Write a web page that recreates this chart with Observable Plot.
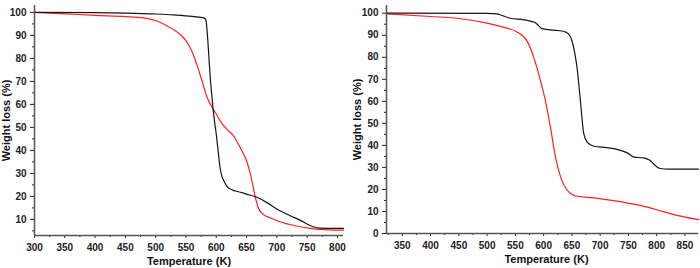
<!DOCTYPE html>
<html><head><meta charset="utf-8">
<script src="https://cdn.jsdelivr.net/npm/d3@7"></script>
<script src="https://cdn.jsdelivr.net/npm/@observablehq/plot@0.6"></script>
<style>
body{margin:0;background:#fff}
#wrap{display:flex;width:700px;height:268px}
#wrap svg{display:block}
</style>
</head><body><div id="wrap"></div>
<script>
// ---- Left panel data ----
const leftBlackT = [300, 400, 450, 500, 530, 560, 575, 581, 583, 584.5, 586, 588, 590, 593, 596, 600, 603, 606, 609, 613, 618, 625, 640, 650, 667, 683, 700, 722, 738, 760, 771, 810];
const leftBlackW = [100, 99.9, 99.7, 99.3, 98.9, 98.3, 97.8, 97.4, 96.5, 93, 88, 80, 72, 63, 55, 47, 40, 33, 29, 26.5, 24.3, 23, 21.8, 21, 19.6, 17.4, 14.5, 11.6, 9.7, 6.8, 6.2, 6.1];
const leftRedT = [300, 350, 400, 450, 480, 500, 520, 540, 550, 560, 573, 585, 600, 610, 620, 628, 634, 642, 650, 656, 661, 665, 669, 677, 690, 700, 720, 738, 755, 771, 810];
const leftRedW = [100, 99.4, 98.7, 98.2, 97.6, 96.5, 94, 90.5, 87.7, 83, 73.2, 63, 55.8, 51.5, 48.5, 46.5, 44, 40, 35.5, 30, 24, 19, 15.2, 12.3, 10.6, 9.4, 7.9, 6.8, 6.1, 5.7, 5.3];
const leftXTicks = [300, 350, 400, 450, 500, 550, 600, 650, 700, 750, 800];
const leftXMinor = [325, 375, 425, 475, 525, 575, 625, 675, 725, 775];
const leftYTicks = [10, 20, 30, 40, 50, 60, 70, 80, 90, 100];
const leftYMinor = [5, 15, 25, 35, 45, 55, 65, 75, 85, 95];

// ---- Right panel data ----
const rightBlackT = [322, 500, 518, 524, 541, 565, 578, 586, 597, 612, 635, 644, 650, 655, 659, 665, 671, 677, 689, 712, 730, 748, 760, 777, 788, 797, 806, 820, 874];
const rightBlackW = [100, 99.9, 99.7, 99.2, 97.7, 97, 96.3, 95.6, 93, 92.4, 91.8, 90.6, 87.6, 82, 75.5, 60.4, 45.3, 41.5, 39.6, 39, 38.2, 36.6, 34.7, 34.3, 33.2, 31, 29.5, 29.2, 29.2];
const rightRedT = [322, 400, 450, 500, 535, 553, 571, 582, 594, 603, 612, 621, 630, 642, 659, 689, 730, 760, 800, 830, 874];
const rightRedW = [99.7, 98.5, 97.6, 95.5, 93.2, 91.5, 87.2, 80.4, 69.8, 60.4, 48.3, 34.7, 25.7, 19.6, 16.9, 16.2, 14.7, 13.3, 10.8, 8.6, 6.3];
const rightXTicks = [350, 400, 450, 500, 550, 600, 650, 700, 750, 800, 850];
const rightXMinor = [325, 375, 425, 475, 525, 575, 625, 675, 725, 775, 825, 875];
const rightYTicks = [0, 10, 20, 30, 40, 50, 60, 70, 80, 90, 100];
const rightYMinor = [5, 15, 25, 35, 45, 55, 65, 75, 85, 95];

const xTitle = "Temperature (K)";
const yTitle = "Weight loss (%)";

const zip = (T, W) => T.map((t, i) => ({t, w: W[i]}));

function panel(o) {
  return Plot.plot({
    width: 350, height: 268,
    marginLeft: o.ml, marginRight: o.mr, marginTop: 5, marginBottom: o.mb,
    style: {fontFamily: "'Liberation Sans', Arial, sans-serif", fontWeight: "bold", fontSize: "10px", background: "#fff", color: "#222", overflow: "visible"},
    x: {domain: o.xDomain},
    y: {domain: o.yDomain},
    marks: [
      Plot.line(o.red, {x: "t", y: "w", stroke: "#ff2020", strokeWidth: 1.2, curve: "monotone-x"}),
      Plot.line(o.black, {x: "t", y: "w", stroke: "#151515", strokeWidth: 1.2, curve: "monotone-x"}),
      Plot.axisX({ticks: o.xTicks, tickSize: 3, tickPadding: 5, label: null}),
      Plot.axisX({ticks: o.xMinor.filter(v => v >= o.xDomain[0] && v <= o.xDomain[1]), tickSize: 2, tickFormat: () => "", label: null}),
      Plot.axisY({ticks: o.yTicks, tickSize: 4, tickPadding: 4, label: null}),
      Plot.axisY({ticks: o.yMinor.filter(v => v >= o.yDomain[0] && v <= o.yDomain[1]), tickSize: 2, tickFormat: () => "", label: null}),
      Plot.ruleY([o.yDomain[0]], {stroke: "#555", strokeWidth: 1.5}),
      Plot.ruleX([o.xDomain[0]], {stroke: "#555", strokeWidth: 1.5}),
      Plot.text([xTitle], {text: d => d, frameAnchor: "bottom", lineAnchor: "middle", textAnchor: "middle", dy: o.xdy, dx: o.xdx, fontSize: 11, fill: "#111"}),
      Plot.text([yTitle], {text: d => d, frameAnchor: "left", lineAnchor: "middle", textAnchor: "middle", rotate: -90, dx: o.ydx, fontSize: 11, fill: "#111"})
    ]
  });
}

const wrap = document.getElementById("wrap");
wrap.append(panel({
  ml: 34, mr: 7, mb: 33, xDomain: [300, 810], yDomain: [3, 103],
  xTicks: leftXTicks, xMinor: leftXMinor, yTicks: leftYTicks, yMinor: leftYMinor,
  black: zip(leftBlackT, leftBlackW), red: zip(leftRedT, leftRedW),
  xdy: 26, xdx: 0, ydx: -28
}));
wrap.append(panel({
  ml: 36, mr: 2, mb: 35, xDomain: [322, 874], yDomain: [0, 103.5],
  xTicks: rightXTicks, xMinor: rightXMinor, yTicks: rightYTicks, yMinor: rightYMinor,
  black: zip(rightBlackT, rightBlackW), red: zip(rightRedT, rightRedW),
  xdy: 26, xdx: 4, ydx: -29
}));
</script>
</body></html>
